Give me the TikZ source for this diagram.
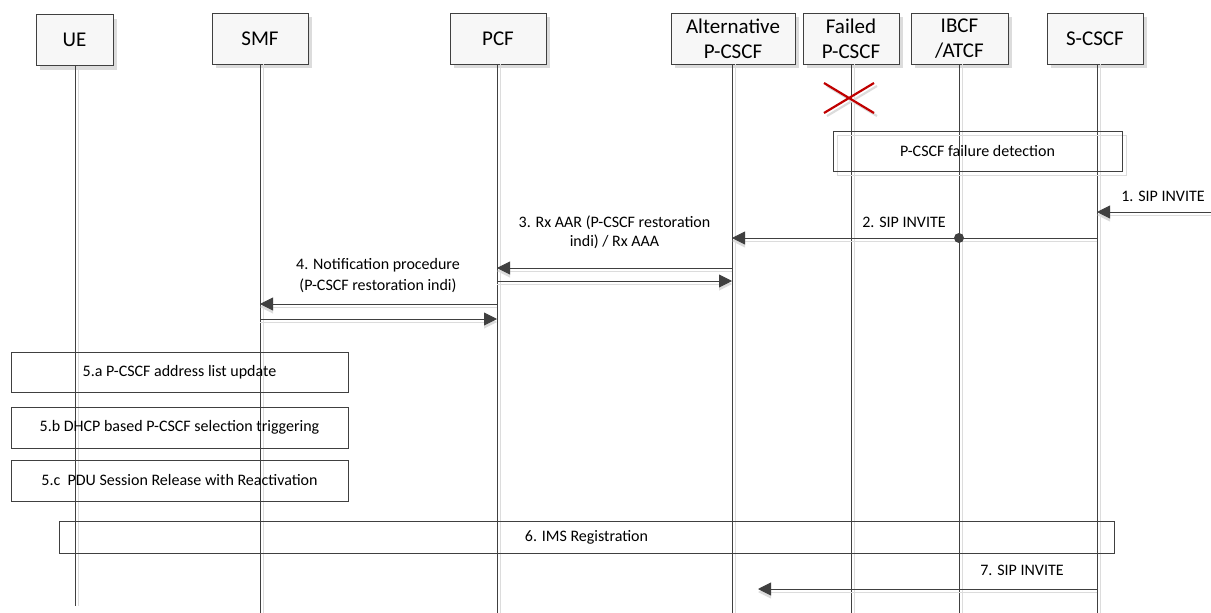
\documentclass[tikz,border=0pt]{standalone}
\usepackage{fontspec}
\setmainfont{Carlito}
\usetikzlibrary{arrows.meta,shadows}

\definecolor{linegray}{HTML}{404040}
\definecolor{shadegray}{HTML}{DCDCDC}
\definecolor{failred}{HTML}{C00000}

\begin{document}
\begin{tikzpicture}[x=1pt,y=-1pt,
  entity/.style={draw=linegray, fill=gray!6, minimum height=51pt, inner sep=0pt,
    align=center, font=\fontsize{21}{25}\selectfont,
    drop shadow={shadow xshift=4pt, shadow yshift=-4pt, fill=shadegray, opacity=1}},
  life/.style={draw=linegray, line width=0.9pt},
  shade/.style={draw=shadegray, line width=1pt},
  msg/.style={inner sep=0pt, align=center, font=\fontsize{16}{19}\selectfont},
  msgarrow/.style={draw=linegray, line width=0.9pt, -{Triangle[length=13pt,width=13pt]}},
  procbox/.style={draw=linegray, line width=0.9pt, inner sep=0pt, align=center,
    font=\fontsize{16}{19}\selectfont}
]

% Fix the page size
\useasboundingbox (0,0) rectangle (1211,613);

% Entities
\node[entity, minimum width=77pt] (ue) at (74.5,40) {UE};
\node[entity, minimum width=96pt] (smf) at (260,38.5) {SMF};
\node[entity, minimum width=96pt] (pcf) at (498,38.5) {PCF};
\node[entity, minimum width=124pt] (altp) at (733,38.5) {Alternative\\P-CSCF};
\node[entity, minimum width=96pt] (failp) at (851,38.5) {Failed\\P-CSCF};
\node[entity, minimum width=97pt] (ibcf) at (959.5,38.5) {IBCF\\/ATCF};
\node[entity, minimum width=96pt] (scscf) at (1095,38.5) {S-CSCF};

% Lifeline ends
\coordinate (ue-end) at (75,606);
\coordinate (smf-end) at (260,613);
\coordinate (pcf-end) at (497,613);
\coordinate (altp-end) at (732,613);
\coordinate (failp-end) at (851,613);
\coordinate (ibcf-end) at (959,613);
\coordinate (scscf-end) at (1097,613);

% Lifelines (with their light shadow)
\foreach \n in {ue,smf,pcf,altp,failp,ibcf,scscf} {
  \draw[shade] ([xshift=3pt]\n.south -| \n-end) -- ([xshift=3pt]\n-end);
  \draw[life] (\n.south -| \n-end) -- (\n-end);
}

% Failed P-CSCF cross
\coordinate (xa) at (824,83);
\coordinate (xb) at (874,113);
\coordinate (xc) at (824,113);
\coordinate (xd) at (874,83);
\draw[shadegray, line width=2.2pt] ([shift={(3pt,-3pt)}]xa) -- ([shift={(3pt,-3pt)}]xb)
  ([shift={(3pt,-3pt)}]xc) -- ([shift={(3pt,-3pt)}]xd);
\draw[failred, line width=2.2pt] (xa) -- (xb) (xc) -- (xd);

% P-CSCF failure detection
\draw[shade] (837,135) rectangle (1126,175);
\node[procbox, minimum width=289pt, minimum height=40pt] (detect) at (977.5,151) {P-CSCF failure detection};

% Message endpoints
\coordinate (in1) at (1211,212);
\coordinate (s1) at (1097,212);
\coordinate (s2) at (1097,238);
\coordinate (a2) at (732,238);
\coordinate (a3) at (732,268);
\coordinate (p3) at (497,268);
\coordinate (p3b) at (497,281);
\coordinate (a3b) at (732,281);
\coordinate (p4) at (497,304);
\coordinate (f4) at (260,304);
\coordinate (f4b) at (260,319);
\coordinate (p4b) at (497,319);
\coordinate (s7) at (1097,589);
\coordinate (t7) at (758,589);

% Arrow shadows
\foreach \a/\b in {in1/s1,s2/a2,a3/p3,p3b/a3b,p4/f4,f4b/p4b,s7/t7}
  \draw[shade, -{Triangle[length=13pt,width=13pt]}] ([yshift=-3pt]\a) -- ([yshift=-3pt]\b);

% 1. SIP INVITE
\draw[msgarrow] (in1) -- (s1);
\node[msg] (m1) at (1163,196) {1. SIP INVITE};

% 2. SIP INVITE
\draw[msgarrow] (s2) -- (a2);
\node[circle, fill=linegray, minimum size=10pt, inner sep=0pt] (relay) at (959,238) {};
\node[msg] (m2) at (904,222) {2. SIP INVITE};

% 3. Rx AAR / Rx AAA
\draw[msgarrow] (a3) -- (p3);
\draw[msgarrow] (p3b) -- (a3b);
\node[msg] (m3) at (614.5,232) {3. Rx AAR (P-CSCF restoration\\indi) / Rx AAA};

% 4. Notification procedure
\draw[msgarrow] (p4) -- (f4);
\draw[msgarrow] (f4b) -- (p4b);
\node[msg, font=\fontsize{16}{21}\selectfont] (m4) at (378,276) {4. Notification procedure\\(P-CSCF restoration indi)};

% 5. UE side procedures
\node[procbox, minimum width=337pt, minimum height=40pt] (step5a) at (179.5,372) {5.a P-CSCF address list update};
\node[procbox, minimum width=337pt, minimum height=41pt] (step5b) at (179.5,427.5) {5.b DHCP based P-CSCF selection triggering};
\node[procbox, minimum width=337pt, minimum height=41pt] (step5c) at (179.5,480.5) {5.c\ \ PDU Session Release with Reactivation};

% 6. IMS Registration
\node[procbox, minimum width=1055pt, minimum height=32pt] (step6) at (586.5,537) {6. IMS Registration};

% 7. SIP INVITE
\draw[msgarrow] (s7) -- (t7);
\node[msg] (m7) at (1022,570) {7. SIP INVITE};

\end{tikzpicture}
\end{document}
